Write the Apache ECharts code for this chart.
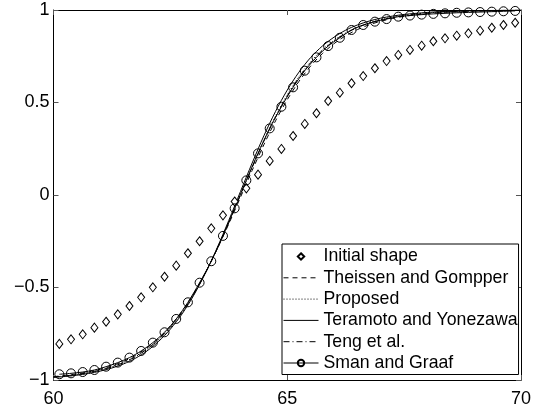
<!DOCTYPE html>
<html>
<head>
<meta charset="utf-8">
<script src="https://cdn.jsdelivr.net/npm/echarts@6/dist/echarts.min.js"></script>
<style>
  html, body { margin: 0; padding: 0; background: #fff; }
  #chart { width: 534px; height: 412px; }
</style>
</head>
<body>
<div id="chart"></div>
<script>
// Interface profiles across x = 60..70

// sample positions of the marker series
const markX = [60.125, 60.375, 60.625, 60.875, 61.125, 61.375, 61.625, 61.875, 62.125, 62.375,
  62.625, 62.875, 63.125, 63.375, 63.625, 63.875, 64.125, 64.375, 64.625, 64.875,
  65.125, 65.375, 65.625, 65.875, 66.125, 66.375, 66.625, 66.875, 67.125, 67.375,
  67.625, 67.875, 68.125, 68.375, 68.625, 68.875, 69.125, 69.375, 69.625, 69.875];

// sample positions of the continuous curves
const curveX = [60, 60.25, 60.5, 60.75, 61, 61.25, 61.5, 61.75, 62, 62.25, 62.5, 62.75,
  63, 63.25, 63.5, 63.75, 64, 64.25, 64.5, 64.75, 65, 65.25, 65.5, 65.75, 66, 66.25,
  66.5, 66.75, 67, 67.25, 67.5, 67.75, 68, 68.25, 68.5, 68.75, 69, 69.25, 69.5, 69.75, 70];

const initialShape = [-0.805, -0.780, -0.753, -0.717, -0.685, -0.645, -0.600, -0.553, -0.499, -0.442,
  -0.382, -0.315, -0.250, -0.180, -0.110, -0.035, 0.036, 0.110, 0.184, 0.249,
  0.319, 0.384, 0.442, 0.508, 0.553, 0.604, 0.643, 0.685, 0.724, 0.757,
  0.784, 0.807, 0.831, 0.847, 0.861, 0.874, 0.888, 0.904, 0.919, 0.931];

const smanGraaf = [-0.969, -0.964, -0.957, -0.946, -0.928, -0.906, -0.879, -0.843, -0.798, -0.742,
  -0.670, -0.580, -0.474, -0.358, -0.221, -0.072, 0.079, 0.225, 0.360, 0.477,
  0.582, 0.672, 0.744, 0.805, 0.850, 0.892, 0.919, 0.937, 0.951, 0.964,
  0.970, 0.975, 0.979, 0.982, 0.985, 0.987, 0.989, 0.991, 0.993, 0.995];

const theissenGompper = [-0.982, -0.975, -0.967, -0.956, -0.942, -0.923, -0.899, -0.867, -0.826, -0.774,
  -0.708, -0.628, -0.532, -0.420, -0.293, -0.156, -0.012, 0.133, 0.272, 0.401,
  0.515, 0.614, 0.697, 0.764, 0.818, 0.861, 0.894, 0.920, 0.939, 0.954,
  0.966, 0.974, 0.981, 0.986, 0.989, 0.992, 0.994, 0.995, 0.997, 0.997, 0.998];

const proposed = [-0.984, -0.978, -0.971, -0.961, -0.947, -0.929, -0.906, -0.875, -0.834, -0.782,
  -0.717, -0.635, -0.537, -0.421, -0.290, -0.146, 0.004, 0.153, 0.296, 0.427,
  0.541, 0.639, 0.720, 0.785, 0.836, 0.876, 0.907, 0.930, 0.948, 0.961,
  0.971, 0.978, 0.984, 0.988, 0.991, 0.993, 0.995, 0.996, 0.997, 0.998, 0.999];

const teramotoYonezawa = [-0.986, -0.981, -0.974, -0.965, -0.952, -0.935, -0.913, -0.883, -0.843, -0.791,
  -0.725, -0.643, -0.542, -0.422, -0.286, -0.137, 0.019, 0.173, 0.320, 0.452,
  0.567, 0.664, 0.743, 0.805, 0.853, 0.891, 0.919, 0.940, 0.956, 0.967,
  0.976, 0.982, 0.987, 0.991, 0.993, 0.995, 0.996, 0.997, 0.998, 0.999, 0.999];

const tengEtAl = [-0.984, -0.978, -0.970, -0.960, -0.946, -0.929, -0.905, -0.874, -0.833, -0.781,
  -0.715, -0.635, -0.536, -0.421, -0.291, -0.149, 0.000, 0.149, 0.291, 0.421,
  0.536, 0.635, 0.715, 0.781, 0.833, 0.874, 0.905, 0.929, 0.946, 0.960,
  0.970, 0.978, 0.984, 0.988, 0.991, 0.993, 0.995, 0.996, 0.997, 0.998, 0.999];

const xTicks = [60, 65, 70];
const yTicks = [-1, -0.5, 0, 0.5, 1];

const FONT = 'Liberation Sans, Arial, Helvetica, sans-serif';

function pairs(xs, ys) {
  return xs.map((x, i) => [x, ys[i]]);
}

const chart = echarts.init(document.getElementById('chart'), null, { renderer: 'canvas' });

const tickStyle = { show: true, inside: true, length: 5, lineStyle: { color: '#555', width: 1 } };
const frameLine = { show: true, onZero: false, lineStyle: { color: '#000', width: 1 } };

function curve(name, ys, dash) {
  return {
    name: name,
    type: 'line',
    data: pairs(curveX, ys),
    smooth: 0.3,
    symbol: 'none',
    showSymbol: false,
    silent: true,
    itemStyle: { color: '#000' },
    lineStyle: { color: '#000', width: 1, type: dash }
  };
}

// curve-only entries: keep the legend line, hide the marker
const lineOnly = name => ({ name: name, itemStyle: { opacity: 0 } });

chart.setOption({
  animation: false,
  backgroundColor: '#fff',
  grid: { left: 53.5, right: 12, top: 10, bottom: 32, containLabel: false },
  xAxis: [{
    type: 'value', min: xTicks[0], max: xTicks[xTicks.length - 1], interval: 5,
    axisLine: frameLine, axisTick: tickStyle, splitLine: { show: false },
    axisLabel: { color: '#000', fontFamily: FONT, fontSize: 18, margin: 10 }
  }, {
    type: 'value', position: 'top', min: 60, max: 70, interval: 5,
    axisLine: frameLine, axisTick: tickStyle, splitLine: { show: false },
    axisLabel: { show: false }
  }],
  yAxis: [{
    type: 'value', min: yTicks[0], max: yTicks[yTicks.length - 1], interval: 0.5,
    axisLine: frameLine, axisTick: tickStyle, splitLine: { show: false },
    axisLabel: {
      color: '#000', fontFamily: FONT, fontSize: 18, margin: 4,
      formatter: v => String(v).replace('-', '\u2212')
    }
  }, {
    type: 'value', position: 'right', min: -1, max: 1, interval: 0.5,
    axisLine: frameLine, axisTick: tickStyle, splitLine: { show: false },
    axisLabel: { show: false }
  }],
  legend: {
    orient: 'vertical',
    left: 282, top: 244,
    padding: [2, 1, 1, 1],
    backgroundColor: '#fff',
    borderColor: '#000', borderWidth: 1, borderRadius: 0,
    itemWidth: 35, itemHeight: 8, itemGap: 0.3,
    lineStyle: { width: 1 },
    textStyle: { color: '#000', fontFamily: FONT, fontSize: 17.7, lineHeight: 21 },
    data: [
      'Initial shape',
      lineOnly('Theissen and Gompper'),
      lineOnly('Proposed'),
      lineOnly('Teramoto and Yonezawa'),
      lineOnly('Teng et al.'),
      'Sman and Graaf'
    ]
  },
  series: [
    {
      name: 'Initial shape',
      type: 'line',
      data: pairs(markX, initialShape),
      symbol: 'diamond',
      symbolSize: [7, 9],
      showSymbol: true,
      silent: true,
      itemStyle: { color: '#fff', borderColor: '#000', borderWidth: 1 },
      lineStyle: { width: 0, opacity: 0 }
    },
    curve('Theissen and Gompper', theissenGompper, [5, 4]),
    curve('Proposed', proposed, [1, 2]),
    curve('Teramoto and Yonezawa', teramotoYonezawa, 'solid'),
    curve('Teng et al.', tengEtAl, [6, 3, 1, 3]),
    {
      name: 'Sman and Graaf',
      type: 'line',
      data: pairs(markX, smanGraaf),
      smooth: 0.3,
      symbol: 'circle',
      symbolSize: 9,
      showSymbol: true,
      silent: true,
      itemStyle: { color: 'rgba(0,0,0,0)', borderColor: '#000', borderWidth: 1 },
      lineStyle: { color: '#000', width: 1 }
    }
  ]
});
</script>
</body>
</html>
